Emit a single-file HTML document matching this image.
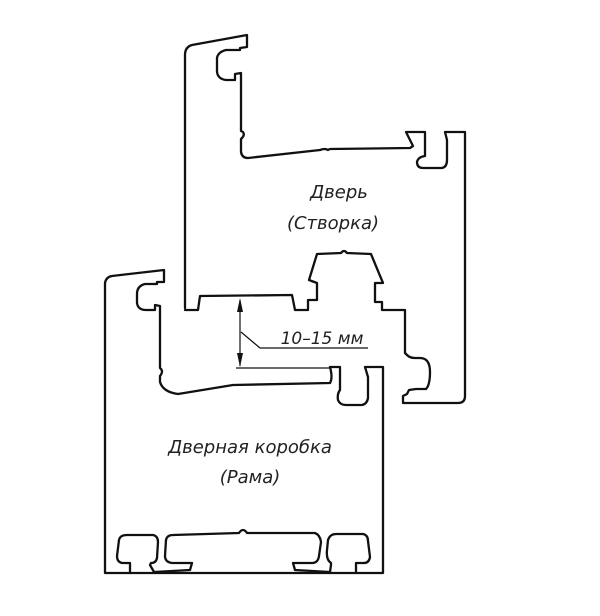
<!DOCTYPE html>
<html><head><meta charset="utf-8"><style>
html,body{margin:0;padding:0;background:#fff;}
svg{display:block;}
text{font-family:"DejaVu Sans","Liberation Sans",sans-serif;font-style:italic;fill:#222;}
</style></head><body>
<svg width="600" height="616" viewBox="0 0 600 616" xmlns="http://www.w3.org/2000/svg">
<g fill="none" stroke="#111" stroke-width="2.3" stroke-linejoin="round" stroke-linecap="round">
<!-- Door sash -->
<path d="M185,308 L185,55 Q185,47 192,45 L247,35 L247,47 L240,48 L240,50 L226,50 Q218,52 217,58 L217,72 Q218,79 226,80 L235,80 L235,74 L241,73 L241,131 L243,132 Q245,135 242,138 L241,139 L241,152 Q242,158 248,158 L320,150 Q325,148 328,150 L330,149 L410,148 L413,146 L406,132 L425,132 L425,156 Q418,157 417,162 Q417,168 423,168 L442,168 Q447,167 447,160 L447,140 L445,132 L465,132 L465,396 Q465,403 458,403 L403,403 L403,396 L407,394 L409,390 L416,389 L426,389 Q430,385 430,372 Q430,358 420,358 L415,358 Q410,358 407,355 L405,353 L405,310 L382,310 L382,302 L375,302 L375,283 L383,283 L371,254 L347,253 Q344,249 341,253 L317,254 L309,280 L317,283 L317,300 L308,300 L308,310 L295,310 L292,295 L200,296 L198,310 L185,310"/>
<!-- Frame -->
<path d="M105,573 L105,283 Q106,277 112,276 L164,270 L164,282 L157,282 L157,284 L145,284 Q137,286 137,294 L137,303 Q138,310 146,310 L155,310 L155,305 L160,306 L160,368 Q164,371 160,376 L160,382 Q163,392 178,394 L233,385 L330,383 Q333,378 330,367 L340,367 L340,390 Q337,394 338,400 Q340,405 346,405 L362,405 Q367,404 368,398 L368,377 L365,367 L383,367 L383,573 L105,573"/>
<!-- Frame bottom profile -->
<path d="M130,573 L130,563 L122,563 Q117,562 117,556 L119,540 Q120,535 127,535 L153,535 Q158,536 158,542 L157,558 Q156,563 151,563 L150,565 L154,572 L190,570 L192,563 L172,563 Q165,562 165,556 L166,540 Q167,535 173,535 L239,533 Q243,527 247,533 L315,533 Q320,535 321,542 L319,556 Q318,563 312,563 L293,563 L295,570 L330,572 L331,565 L331,563 Q326,560 327,550 L328,540 Q330,534 336,534 L363,534 Q368,535 368,541 L370,557 Q369,563 364,563 L356,563 L356,573"/>
</g>
<!-- Dimension -->
<g stroke="#111" stroke-width="1.2" fill="none">
<line x1="240" y1="300" x2="240" y2="366"/>
<line x1="236" y1="368" x2="330" y2="368"/>
<polyline points="241,332 260,348 368,348"/>
</g>
<polygon points="240,298 237,312 243,312" fill="#111"/>
<polygon points="240,367 237,353 243,353" fill="#111"/>
<text x="322" y="344" font-size="17" text-anchor="middle">10–15 мм</text>
<text x="339" y="198" font-size="18" text-anchor="middle">Дверь</text>
<text x="333" y="229" font-size="18" text-anchor="middle">(Створка)</text>
<text x="250" y="453" font-size="18" text-anchor="middle">Дверная коробка</text>
<text x="250" y="483" font-size="18" text-anchor="middle">(Рама)</text>
</svg>
</body></html>
